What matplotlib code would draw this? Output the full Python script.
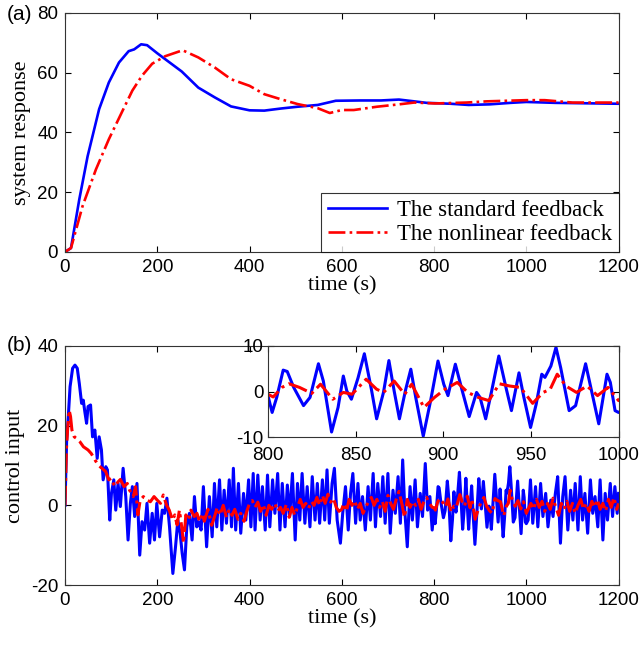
import numpy as np
import matplotlib
matplotlib.use('Agg')
import matplotlib.pyplot as plt

plt.rcParams['axes.unicode_minus'] = False
SANS = 'Liberation Sans'
SERIF = 'Liberation Serif'

# ---- (a) system response ----
t_resp_std = [0, 13, 31, 49, 74, 95, 117, 138, 150, 165, 178, 200, 253, 289, 325, 360,
              400, 432, 468, 504, 548, 587, 640, 685, 724, 757, 784, 836, 875, 921,
              966, 1000, 1063, 1200]
y_resp_std = [0, 1.3, 17.6, 32, 47.8, 56.7, 63.4, 67.2, 67.8, 69.5, 69.2, 66.5, 60.4, 55,
              51.7, 48.7, 47.4, 47.3, 48, 48.6, 49.2, 50.6, 50.7, 50.7, 51, 50.4, 49.9,
              49.6, 49.2, 49.4, 49.9, 50.2, 49.9, 49.6]

t_resp_nl = [0, 13, 38, 67, 95, 124, 146, 167, 189, 217, 255, 289, 325, 360, 400, 432,
             468, 504, 548, 574, 600, 626, 676, 724, 757, 802, 870, 914, 1000, 1040,
             1100, 1200]
y_resp_nl = [0, 1.3, 15.3, 27.6, 37.7, 47, 54, 59, 63, 65.5, 67.5, 65.1, 61.7, 57.8,
             55.6, 52.8, 51.1, 49.5, 48.1, 46.5, 47.5, 47.5, 48.6, 49.4, 50, 49.7, 50,
             50.4, 50.8, 50.8, 50, 50]

# ---- (b) control input, standard feedback ----
t_u_std = [0, 3.6, 7, 11, 16.5, 21.6, 26.6, 31, 36, 39.6, 43, 46.8, 50, 55.4, 59.7, 64.7,
           69.8, 74, 79, 82.7, 88.5, 92, 97, 100.7, 105.8, 110, 115, 120, 126, 131.7,
           136.7, 141.7, 146, 151, 156, 162, 167, 172.7, 177.7, 183.5, 189, 194, 199,
           205, 210.8, 215.8, 220.9, 226.6, 233.8, 239.6, 244.6, 249.6, 254, 259, 264,
           269.8, 275.5, 280.6, 285.6, 290,
           295, 300, 307, 313, 319, 324, 329, 335, 340, 345, 350, 356, 361, 365, 370,
           376, 381, 387, 392, 398, 403, 408, 412, 418, 423, 428, 434, 439, 444, 450,
           455, 461, 466, 471, 477, 482, 487, 493, 499, 504, 509, 514, 520, 525, 531,
           536, 542, 547, 552, 558, 563, 568, 573, 579, 584, 590,
           597, 602, 608, 614, 619, 624, 630, 635, 640, 645, 651, 657, 662, 668, 673,
           678, 684, 689, 694, 700, 705, 711, 716, 722, 727, 732, 737, 742, 748, 753,
           759, 764, 770, 775, 781, 786, 791, 796,
           800, 802.4, 805, 808.7, 811, 814.7, 820.3, 824, 828.8, 831.6, 836.3, 840,
           843, 845, 847.6, 851.4, 855, 859, 862, 865.9, 869, 872, 875, 878.6, 881.5,
           884.3, 888.6, 892.8, 897, 900.3, 902.7, 906.9, 910.6, 914.8, 919, 921,
           924.2, 927.6, 931.7, 936, 938.9, 943.2, 946, 949.8, 953, 956.2, 958, 961.4,
           964.3, 967, 971.8, 975.5, 981.2, 984, 988.7, 993.4, 995.3, 998, 1000,
           1004, 1009, 1014, 1020, 1025, 1031, 1036, 1042, 1047, 1053, 1058, 1063,
           1068, 1074, 1079, 1084, 1090, 1096, 1101, 1106, 1112, 1117, 1122, 1127,
           1133, 1139, 1144, 1149, 1155, 1160, 1166, 1171, 1176, 1182, 1187, 1192,
           1197, 1200]
u_std = [0, 16.4, 22, 29.8, 34.4, 35.2, 34.4, 30.6, 25.6, 26.4, 23.5, 20.6, 24.8, 25.2,
         17.2, 18.9, 11.8, 17.2, 13.9, 6.4, 9.7, 8.9, -3.7, 3, 6.4, -1.2, 5.5, -0.3, 9.3,
         2.2, -8.7, 0.5, 4.7, -2.8, 5.5, -12.5, -4.1, -6.2, 0.5, -9.5, -2, -8.7, 0.5,
         -7.9, -1.2, -2, 1.8, -5.4, -17.1, -10.4, -3.7, -7, -12, -16.2, -5.4, -2, -8.7,
         2.2, -5.4, -4.1,
         -6.2, 4.7, -10.4, 2.2, -7.9, 5.5, -5.4, 6.4, -6.2, 3.8, -4.5, 6.4, -5.4, 9.3,
         -6.2, 5.5, -7, 3, -3.7, 6.4, -5.4, 8, -6.2, 7.6, -3.7, 4.7, -6.2, 7.6, -5.4,
         6.4, -2, 8, -6.2, 5.5, -5.4, 5.1, -2.8, 8, -8.7, 5.5, -3.7, 8, -4.5, 4.7, -5.4,
         7.2, -3.7, 5.5, -4.5, 6.4, -3.7, 8.9, -4.5, 5.5, 9.3, -3.7,
         -9.5, -2, 4.7, -6.2, 3, 8, -4.5, 5.5, -3.7, 2.2, -6.2, 4.7, -3.7, 8, -5.4, 5.5,
         -2.8, 7.2, -4.5, 8, -7, 3.8, -2, 7.2, -4.5, 11.4, -2, -10.4, 4.7, -3.7, 6.4,
         -5.4, 3, -2.8, 10.5, -1.2, 2.2, -6.2,
         -0.9, -4.6, -1.3, 4.7, 4.4, 0.9, -3.1, -1.3, 6.1, 2.3, -8.9, -3.5, 3.4, 0.1,
         -1.7, 3, 8.3, 0.5, -6, -0.2, 6.8, 0.1, -6, 0.5, 4.9, -1.3, -9.8, -2, 6.7, 1.6,
         -0.9, 6, 0.5, -5.5, -0.2, -1.3, -6, 0.1, 7.8, 0.5, -4.2, 4.1, -1.3, -7.9,
         -2.8, 3.8, 3.1, 5.6, 9.7, 5.2, -4.2, -3.1, 6.1, 1.2, -7.1, 3.8, 2, -4.2, -4.6,
         -3.7, 6.4, -4.5, 4.7, -5.4, 5.5, -2.8, 3, -5.4, 1.3, -2.8, 3, 7.2, -9.5, 2.2,
         7.2, -6.2, 3.8, -3.7, 5.5, -6.2, 7.2, -3.7, 3, -7, 6.4, -2, 2.2, -5.4, 6.4,
         -8.7, 3, -3.7, 5.5, -2.8, 4.7, -2, 3]

# ---- (b) control input, nonlinear feedback ----
t_u_nl = [0, 3, 6, 9, 12, 15, 20, 25, 32, 40, 50, 57, 65, 72, 80, 88, 95, 100, 108, 115,
          120, 128, 135, 140, 148, 153, 158, 163, 170, 177, 185, 193, 200, 207, 213,
          220, 226, 233, 238, 243, 248, 253, 257, 262, 268, 273, 280, 286, 292,
          298, 302, 310, 318, 325, 330, 336, 343, 350, 356, 362, 368, 375, 381, 388,
          394, 400, 406, 412, 418, 424, 430, 436, 442, 448, 455, 461, 467, 473, 480,
          486, 492, 498, 504, 510, 516, 522, 528, 534, 540, 546, 552, 558, 564, 570,
          576, 582, 588, 594,
          600, 604, 610, 616, 622, 628, 634, 640, 646, 652, 658, 664, 670, 676, 682,
          688, 694, 700, 706, 712, 718, 724, 730, 736, 742, 748, 754, 760, 766, 772,
          778, 784, 790, 796,
          800, 803, 808, 812, 818, 825, 830, 837, 843, 848, 856, 862, 866, 872, 878,
          882, 889, 895, 901, 908, 914, 920, 926, 932, 938, 944, 951, 957, 961, 965,
          970, 976, 982, 988, 994, 1000,
          1010, 1016, 1022, 1028, 1034, 1040, 1046, 1052, 1058, 1064, 1070, 1076, 1082,
          1088, 1094, 1100, 1106, 1112, 1118, 1124, 1130, 1136, 1142, 1148, 1154, 1160,
          1166, 1172, 1178, 1184, 1190, 1196, 1200]
u_nl = [0, 13.9, 19.7, 23.9, 22.3, 18.9, 17.2, 16.8, 16, 14.7, 13.9, 13, 11.4, 10.1, 9.3,
        8.5, 6.4, 6.8, 4.7, 5.9, 6.5, 4.7, 5.5, 3.8, 2.2, 4.7, -2.4, 1.3, 2.2, 1.3, 0.9,
        2.2, 1.3, 0.5, 2.6, 0.1, -1.2, -3.7, -2.4, -4.9, -1.2, -5.4, -9.5, -2.4, -3.7,
        -1.2, -2.8, -2, -4.1,
        -2, -4, -1, -5, -2.5, -0.5, -2.5, 0, -3, -1, -2.5, -1, -3.5, -2, -4, -1.5, 0.5,
        1.2, -0.5, 0.8, -1.5, 0.2, -2.5, 0, -1, 0.5, -1.5, -0.5, -2, 0.3, -3, -0.5,
        -2.5, -0.5, 1.5, -0.5, 0.5, -0.8, 1, 0, 2, 0, 2.5, 0.5, 2.8, 0.8, 1.8, -0.5,
        -1.5,
        -1, 0.5, -1.5, 1.5, 0, 1.2, -1, 0.5, -2, -0.5, 1, 2, 0, 1.5, -0.5, 1, -1.5, 2.5,
        0.5, -1, 1.5, 3.5, 0.5, -3, 1.5, -0.5, 1, 0, 1.5, -1, 1, 2, 0.5, -0.5,
        -0.6, -1.2, 0.9, 1.7, 0.9, -0.4, 1.6, -1.7, -0.2, -0.6, 2.7, 0.5, -0.2, 2.3,
        -0.6, 1.6, -3.5, -1.3, 0.5, 2, -0.2, -1.3, -2, 1.7, 1.2, 0.9, -2.6, -0.2, 0.5,
        3.8, 1.2, -0.2, 1.2, -0.9, 0.9, -2,
        0.5, -1, 1.5, -0.5, 1, -1.5, 0.5, -1, 1.8, -0.5, -2.5, 0.5, -1, 1, -1.5, 0.5,
        -2, 0, 1.5, -1, 0.5, -1.5, 1, -0.5, 1.5, -1, 0.5, -1.5, 1.5, -0.5, 2, -1, 0.5]

BLUE = '#0000ff'
RED = '#ff0000'


def style(ax, size=13.5, pad=5):
    ax.tick_params(direction='in', top=True, right=True, length=4, width=0.8,
                   labelsize=size, pad=pad)
    for lab in ax.get_xticklabels() + ax.get_yticklabels():
        lab.set_fontfamily(SANS)
    for s in ax.spines.values():
        s.set_linewidth(0.8)
        s.set_color('#333333')


fig = plt.figure(figsize=(6.41, 6.46), dpi=100)
ax1 = fig.add_axes([0.1014, 0.610, 0.8636, 0.370])
ax2 = fig.add_axes([0.1014, 0.0944, 0.8636, 0.370])
ax3 = fig.add_axes([0.418, 0.3235, 0.5470, 0.1409])

# (a)
ax1.plot(t_resp_std, y_resp_std, color=BLUE, lw=1.9, label='The standard feedback')
ax1.plot(t_resp_nl, y_resp_nl, color=RED, lw=1.9, ls='-.', label='The nonlinear feedback')
ax1.set_xlim(0, 1200); ax1.set_ylim(0, 80)
ax1.set_xticks(range(0, 1201, 200)); ax1.set_yticks(range(0, 81, 20))
style(ax1)
ax1.set_xlabel('time (s)', fontfamily=SERIF, fontsize=16, labelpad=0)
ax1.set_ylabel('system response', fontfamily=SERIF, fontsize=16, labelpad=4)
leg = ax1.legend(loc='lower right', borderaxespad=0, fancybox=False,
                 prop={'family': SERIF, 'size': 16.4}, handlelength=2.6,
                 handletextpad=0.4, labelspacing=0.15, borderpad=0.3)
leg.get_frame().set_edgecolor('black')
leg.get_frame().set_linewidth(0.8)

# (b)
ax2.plot(t_u_std, u_std, color=BLUE, lw=2.2)
ax2.plot(t_u_nl, u_nl, color=RED, lw=2.2, ls='-.')
ax2.set_xlim(0, 1200); ax2.set_ylim(-20, 40)
ax2.set_xticks(range(0, 1201, 200)); ax2.set_yticks(range(-20, 41, 20))
style(ax2)
ax2.set_xlabel('time (s)', fontfamily=SERIF, fontsize=16, labelpad=0)
ax2.set_ylabel('control input', fontfamily=SERIF, fontsize=16, labelpad=4)

# inset
ax3.plot(t_u_std, u_std, color=BLUE, lw=2.2)
ax3.plot(t_u_nl, u_nl, color=RED, lw=2.2, ls='-.')
ax3.set_xlim(800, 1000); ax3.set_ylim(-10, 10)
ax3.set_xticks(range(800, 1001, 50)); ax3.set_yticks([-10, 0, 10])
style(ax3, pad=3)
ax3.tick_params(axis='x', pad=7)

fig.text(0.011, 0.978, '(a)', fontfamily=SANS, fontsize=15, va='center', ha='left')
fig.text(0.011, 0.4644, '(b)', fontfamily=SANS, fontsize=15, va='center', ha='left')

plt.savefig('out.png', dpi=100)
